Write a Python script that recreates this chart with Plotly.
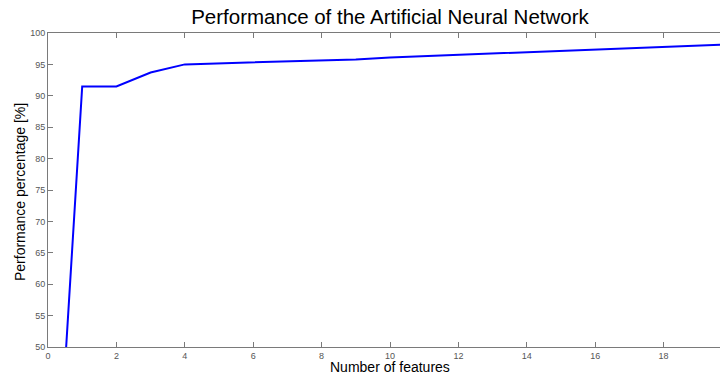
import plotly.graph_objects as go

features = [0, 1, 2, 3, 4, 5, 6, 7, 8, 9, 10, 11, 12, 13, 14, 15, 16, 17, 18, 19, 20]
performance = [3.0, 91.5, 91.5, 93.7, 95.0, 95.15, 95.3, 95.4, 95.6, 95.8, 96.1, 96.3, 96.5,
               96.7, 96.9, 97.1, 97.3, 97.5, 97.7, 97.9, 98.2]
x_ticks = [0, 2, 4, 6, 8, 10, 12, 14, 16, 18, 20]
y_ticks = [50, 55, 60, 65, 70, 75, 80, 85, 90, 95, 100]

FONT = "Liberation Sans, Arial"

fig = go.Figure()
fig.add_trace(go.Scatter(x=features, y=performance, mode="lines",
                         line=dict(color="#0000ff", width=2), showlegend=False))

axis_common = dict(showgrid=False, zeroline=False, showline=True, linecolor="#7a7a7a",
                   linewidth=1, mirror="allticks", ticks="inside", ticklen=5,
                   tickcolor="#7a7a7a", tickwidth=1, automargin=False,
                   tickfont=dict(family=FONT, size=9, color="#555555"))

# page body has an 8px offset, so positions are compensated
fig.update_layout(
    width=728, height=376,
    margin=dict(l=40, r=4, t=25, b=37),
    paper_bgcolor="white", plot_bgcolor="white",
    title=dict(text="Performance of the Artificial Neural Network", x=382 / 728, xanchor="center",
               y=1 - 9 / 376, yref="container", yanchor="middle",
               font=dict(family=FONT, size=20.5, color="black")),
    xaxis=dict(range=[0, 20], tickvals=x_ticks, ticktext=[str(v) for v in x_ticks],
               **axis_common),
    yaxis=dict(range=[50, 100], tickvals=y_ticks, ticktext=[str(v) for v in y_ticks],
               **axis_common),
    annotations=[
        dict(text="Number of features", xref="paper", yref="paper",
             x=(390 - 48) / 684, y=-(367 - 347) / 314, xanchor="center", yanchor="middle",
             showarrow=False, font=dict(family=FONT, size=14, color="black")),
        dict(text="Performance percentage [%]", xref="paper", yref="paper",
             x=-(48 - 20) / 684, y=(347 - 192) / 314, xanchor="center", yanchor="middle",
             textangle=-90, showarrow=False, font=dict(family=FONT, size=14, color="black")),
    ],
)

fig.write_html("out.html")
